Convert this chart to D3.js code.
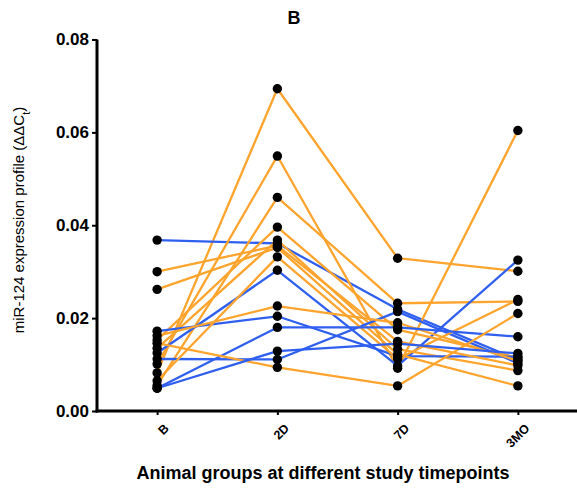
<!DOCTYPE html>
<html>
<head>
<meta charset="utf-8">
<script src="https://cdn.jsdelivr.net/npm/d3@7"></script>
<style>
  html, body { margin: 0; padding: 0; background: #fff; }
  svg { display: block; font-family: Arial, "Liberation Sans", sans-serif; }
</style>
</head>
<body>
<svg id="chart" width="577" height="488"></svg>
<script>
// Study timepoints (x categories)
const timepoints = ["B", "2D", "7D", "3MO"];

// Y tick values
const yTicks = [0.00, 0.02, 0.04, 0.06, 0.08];

// miR-124 ΔΔCt per animal across timepoints: [B, 2D, 7D, 3MO]
const orangeSeries = [
  [0.0082, 0.0694, 0.0329, 0.0301],
  [0.0101, 0.0549, 0.0092, 0.0604],
  [0.0055, 0.0460, 0.0232, 0.0236],
  [0.0153, 0.0396, 0.0175, 0.0115],
  [0.0135, 0.0368, 0.0133, 0.0087],
  [0.0300, 0.0356, 0.0150, 0.0098],
  [0.0262, 0.0352, 0.0122, 0.0054],
  [0.0065, 0.0332, 0.0112, 0.0240],
  [0.0162, 0.0226, 0.0190, 0.0108],
  [0.0146, 0.0094, 0.0054, 0.0210]
];
const blueSeries = [
  [0.0368, 0.0361, 0.0219, 0.0110],
  [0.0125, 0.0303, 0.0097, 0.0325],
  [0.0172, 0.0204, 0.0118, 0.0117],
  [0.0112, 0.0111, 0.0214, 0.0103],
  [0.0049, 0.0180, 0.0180, 0.0160],
  [0.0049, 0.0129, 0.0145, 0.0124]
];

const orangeColor = "#FDA42E";
const blueColor = "#2F5FEF";

const svg = d3.select("#chart");
const x0 = 97, x1 = 578, yTop = 39.5, yBottom = 411;

const x = d3.scalePoint().domain(timepoints).range([x0, x1]).padding(0.5);
const y = d3.scaleLinear().domain([0, 0.08]).range([yBottom, yTop]);

// Connecting lines per animal
const line = d3.line().x((d, i) => x(timepoints[i])).y(d => y(d));
const allSeries = orangeSeries.map(v => ({ v, c: orangeColor }))
  .concat(blueSeries.map(v => ({ v, c: blueColor })));
// interleave draw order so the two colours overlap
const order = [0, 10, 1, 2, 11, 3, 4, 12, 5, 6, 13, 7, 8, 14, 9, 15];

svg.append("g").selectAll("path")
  .data(order.map(i => allSeries[i]))
  .join("path")
  .attr("d", d => line(d.v))
  .attr("fill", "none")
  .attr("stroke", d => d.c)
  .attr("stroke-width", 2.3)
  .attr("stroke-linejoin", "round");

// Points
const pts = [];
allSeries.forEach(s => s.v.forEach((v, i) => pts.push({ t: timepoints[i], v })));
svg.append("g").selectAll("circle")
  .data(pts)
  .join("circle")
  .attr("cx", d => x(d.t))
  .attr("cy", d => y(d.v))
  .attr("r", 4.7)
  .attr("fill", "#000");

// Y axis
const yAxis = svg.append("g")
  .attr("transform", `translate(${x0},0)`)
  .call(d3.axisLeft(y).tickValues(yTicks).tickFormat(d3.format(".2f")).tickSize(5).tickPadding(3));
yAxis.select(".domain").attr("stroke", "#000").attr("stroke-width", 3)
  .attr("d", `M0,${yTop}V${yBottom + 1.5}`);
yAxis.selectAll(".tick line").attr("stroke", "#000").attr("stroke-width", 2);
yAxis.selectAll(".tick text")
  .attr("fill", "#000").style("font-size", "17px").style("font-weight", "bold");

// X axis
const xAxis = svg.append("g")
  .attr("transform", `translate(0,${yBottom})`)
  .call(d3.axisBottom(x).tickSize(4).tickPadding(6));
xAxis.select(".domain").attr("stroke", "#000").attr("stroke-width", 3)
  .attr("d", `M${x0 - 1.5},0H${x1}`);
xAxis.selectAll(".tick line").attr("stroke", "#000").attr("stroke-width", 2);
xAxis.selectAll(".tick text")
  .attr("fill", "#000")
  .style("font-size", "12.5px").style("font-weight", "bold")
  .attr("text-anchor", "end")
  .attr("dy", "0")
  .attr("transform", "translate(5,11) rotate(-45)");

// Title
svg.append("text")
  .attr("x", 294).attr("y", 24)
  .attr("text-anchor", "middle")
  .style("font-size", "18px").style("font-weight", "bold")
  .text("B");

// Y axis label with subscript
const yl = svg.append("text")
  .attr("transform", `translate(24,220) rotate(-90)`)
  .attr("text-anchor", "middle")
  .style("font-size", "15px");
yl.append("tspan").text("miR-124 expression profile (ΔΔC");
yl.append("tspan").attr("baseline-shift", "sub").style("font-size", "11px").text("t");
yl.append("tspan").text(")");

// X axis label
svg.append("text")
  .attr("x", 323).attr("y", 479)
  .attr("text-anchor", "middle")
  .style("font-size", "18px").style("font-weight", "bold")
  .text("Animal groups at different study timepoints");
</script>
</body>
</html>
